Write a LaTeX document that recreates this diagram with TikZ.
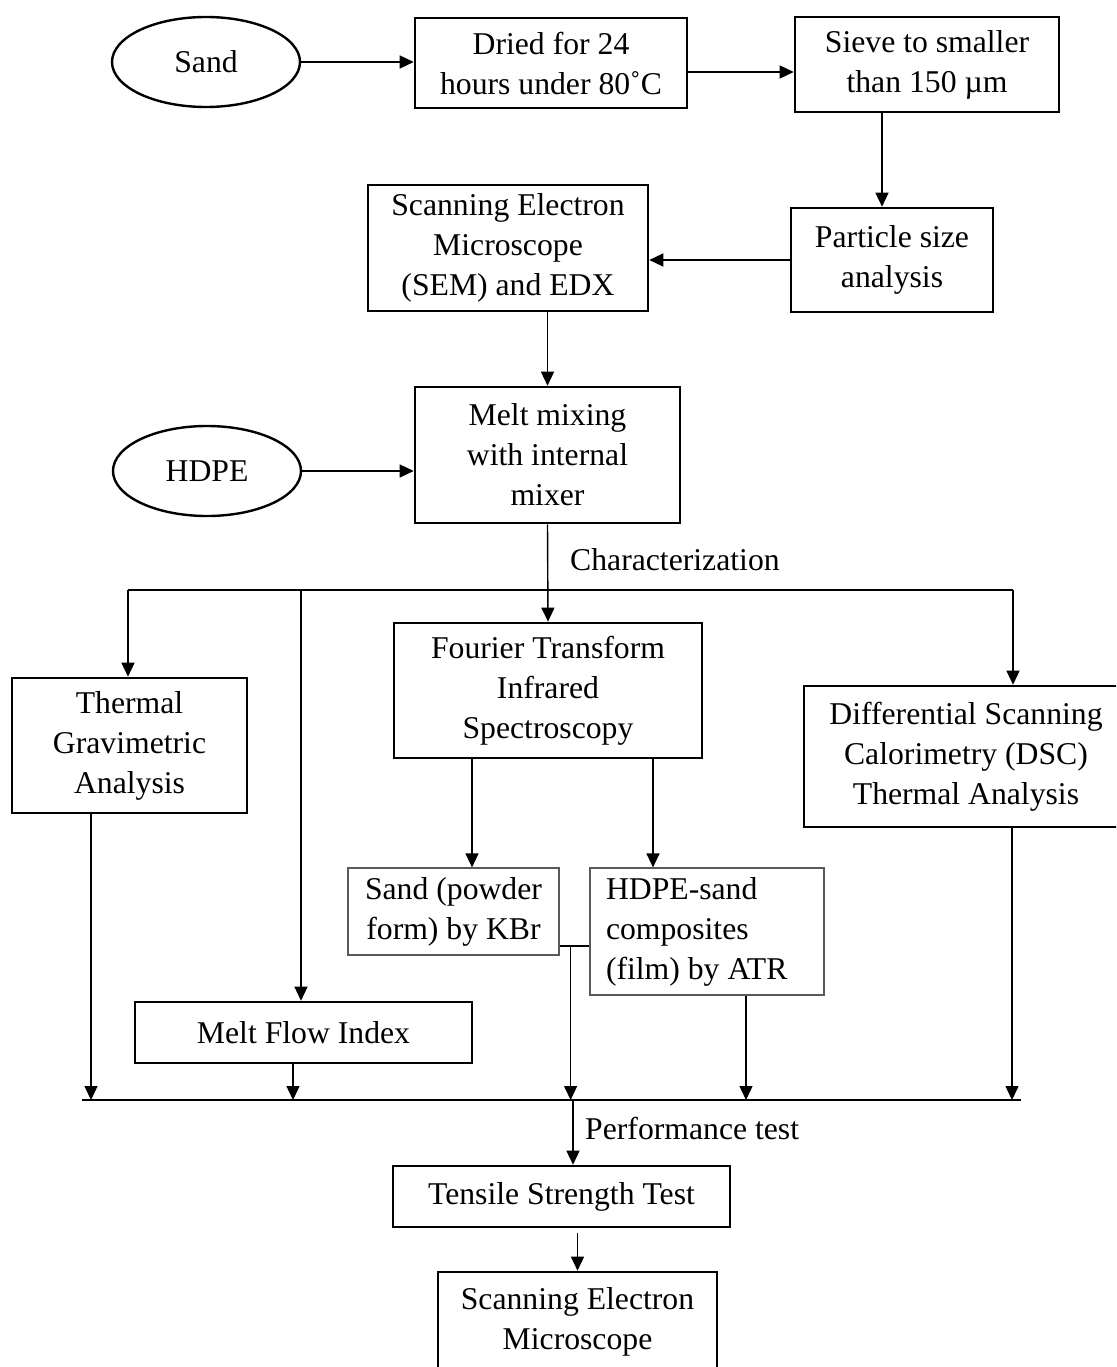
\documentclass[tikz,border=0pt]{standalone}
\usepackage{fontspec}
\setmainfont{Liberation Serif}
\usetikzlibrary{shapes.geometric,arrows.meta}
\begin{document}
\begin{tikzpicture}[x=1pt,y=-1pt,
  every node/.style={font=\fontsize{31.7}{40}\selectfont, inner sep=0pt, align=center},
  bx/.style={draw, line width=2.6pt},
  gbx/.style={draw=black!65, line width=1.2pt},
  oval/.style={draw, ellipse, line width=2.4pt, minimum width=188pt, minimum height=90pt},
  conn/.style={line width=1.4pt},
  arr/.style={conn, -{Triangle[width=13pt,length=14pt]}},
]
\useasboundingbox (0,0) rectangle (1116,1367);
\clip (0,0) rectangle (1116,1367);
\fill[white] (0,0) rectangle (1116,1367);

% nodes (centers, sizes from corners)
\node[oval] (sand) at (206,62) {Sand};
\node[bx, minimum width=272pt, minimum height=90pt] (dried) at (551,63) {Dried for 24\\hours under 80˚C};
\node[bx, minimum width=264pt, minimum height=95pt] (sieve) at (927,64.5) {Sieve to smaller\\than 150 µm};
\node[bx, minimum width=202pt, minimum height=104pt] (particle) at (892,260) {Particle size\\analysis};
\node[bx, minimum width=280pt, minimum height=126pt] (sem) at (508,248) {Scanning Electron\\Microscope\\(SEM) and EDX};
\node[bx, minimum width=265pt, minimum height=136pt] (melt) at (547.5,455) {Melt mixing\\with internal\\mixer};
\node[oval] (hdpe) at (207,471) {HDPE};
\node[bx, minimum width=308pt, minimum height=135pt] (ftir) at (548,690.5) {Fourier Transform\\Infrared\\Spectroscopy};
\node[bx, minimum width=235pt, minimum height=135pt] (tga) at (129.5,745.5) {Thermal\\Gravimetric\\Analysis};
\node[bx, minimum width=324pt, minimum height=141pt] (dsc) at (966,756.5) {Differential Scanning\\Calorimetry (DSC)\\Thermal Analysis};
\node[gbx, minimum width=211pt, minimum height=87pt] (kbr) at (453.5,911.5) {Sand (powder\\form) by KBr};
\node[gbx, minimum width=234pt, minimum height=127pt, inner xsep=16pt, text width=202pt, align=flush left] (hsand) at (707,931.5) {HDPE-sand\\composites\\(film) by ATR};
\node[bx, minimum width=337pt, minimum height=61pt] (mfi) at (303.5,1032.5) {Melt Flow Index};
\node[bx, minimum width=337pt, minimum height=61pt] (tensile) at (561.5,1196.5) {Tensile Strength Test};
\node[bx, minimum width=279pt, minimum height=100pt] (sem2) at (577.5,1322) {Scanning Electron\\Microscope};

% labels
\node[anchor=west] (charlab) at (570,560) {Characterization};
\node[anchor=west] (perflab) at (585,1128) {Performance test};

% junction coordinates
\coordinate (jl) at (128,590);
\coordinate (jm) at (301,590);
\coordinate (jr) at (1013,590);
\coordinate (bl) at (82,1100);
\coordinate (br) at (1021,1100);
\coordinate (kj) at ([xshift=11pt,yshift=-34.5pt]kbr.east);

% top chain
\draw[arr] (sand.east) -- (sand.east -| dried.west);
\draw[arr] ([yshift=-9pt]dried.east) -- ([yshift=-9pt]dried.east -| sieve.west);
\draw[arr] ([xshift=-45pt]sieve.south) -- ([xshift=-45pt]sieve.south |- particle.north);
\draw[arr] (particle.west) -- (particle.west -| sem.east);
\draw[arr] (melt.north |- sem.south) -- (melt.north);
\draw[arr] (hdpe.east) -- (hdpe.east -| melt.west);
\draw[arr] (melt.south) -- (ftir.north);

% characterization branch
\draw[conn] (jl) -- (jr);
\draw[arr] (jl) -- (jl |- tga.north);
\draw[arr] (jm) -- (jm |- mfi.north);
\draw[arr] (jr) -- (jr |- dsc.north);

% FTIR sub-branches
\draw[arr] ([xshift=-76pt]ftir.south) -- ([xshift=-76pt]ftir.south |- kbr.north);
\draw[arr] ([xshift=105pt]ftir.south) -- ([xshift=105pt]ftir.south |- hsand.north);
\draw[conn] ([yshift=-34.5pt]kbr.east) -- ([yshift=-34.5pt]kbr.east -| hsand.west);

% to bottom line
\draw[conn] (bl) -- (br);
\draw[arr] ([xshift=-38.5pt]tga.south) -- ([xshift=-38.5pt]tga.south |- bl);
\draw[arr] ([xshift=-10.5pt]mfi.south) -- ([xshift=-10.5pt]mfi.south |- bl);
\draw[arr] (kj) -- (kj |- bl);
\draw[arr] ([xshift=39pt]hsand.south) -- ([xshift=39pt]hsand.south |- bl);
\draw[arr] ([xshift=46pt]dsc.south) -- ([xshift=46pt]dsc.south |- bl);

% performance
\draw[arr] ([xshift=11.5pt]tensile.north |- bl) -- ([xshift=11.5pt]tensile.north);
\draw[arr] ([yshift=-5pt]sem2.north |- tensile.south) -- (sem2.north);
\end{tikzpicture}
\end{document}
